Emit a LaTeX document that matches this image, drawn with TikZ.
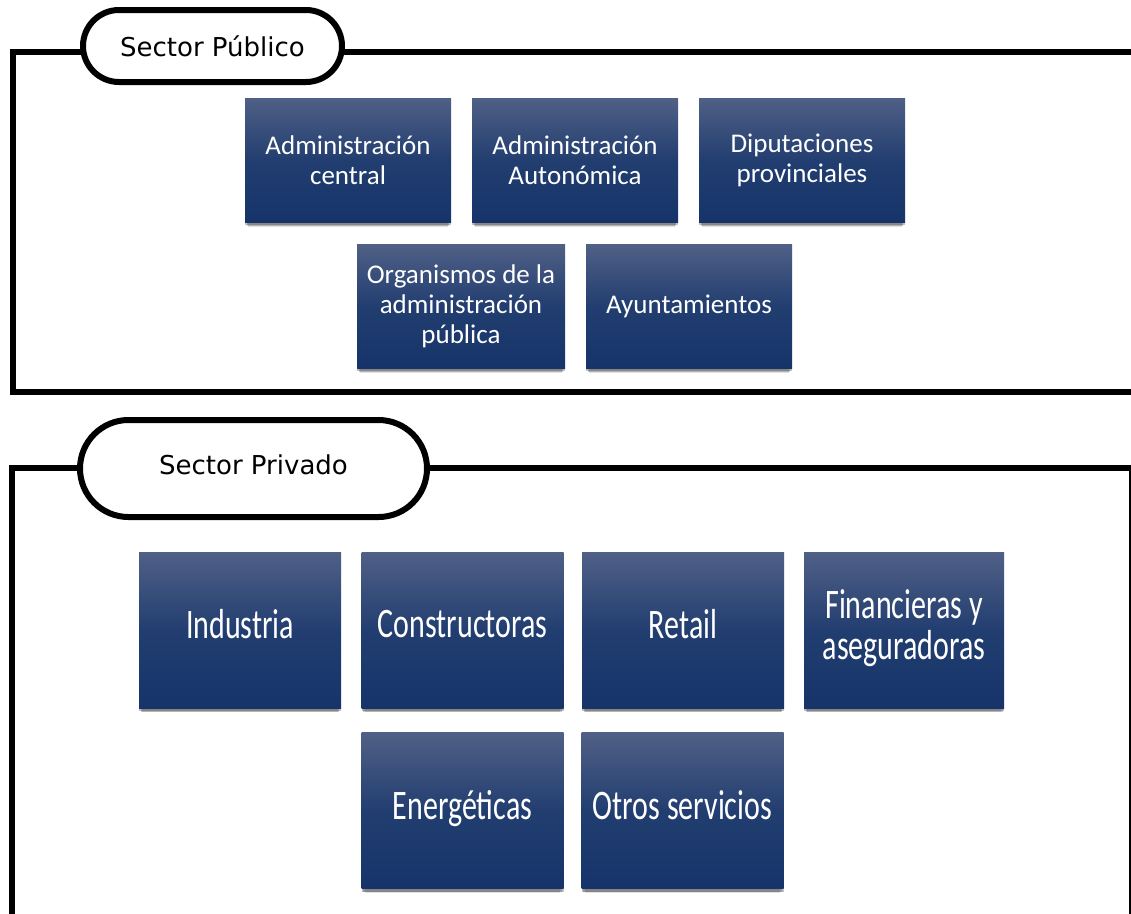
\documentclass[tikz,border=0pt]{standalone}
\usepackage{fontspec}
\setmainfont{Carlito}
\newfontfamily\verd{DejaVu Sans}
\usetikzlibrary{shadows,shapes.misc}
\definecolor{boxtop}{RGB}{80,96,134}
\definecolor{boxmid}{RGB}{34,62,112}
\definecolor{boxbot}{RGB}{22,52,106}
\newcommand{\tallt}[1]{\scalebox{1}[1.4]{\begin{tabular}{@{}c@{}}#1\end{tabular}}}
\tikzset{
  bluebox/.style={rectangle, inner sep=0pt, text=white, align=center,
    top color=boxtop, bottom color=boxbot, middle color=boxmid,
    general shadow={shadow xshift=0pt, shadow yshift=-7pt, shadow scale=0.97, fill=black, opacity=0.12},
    general shadow={shadow xshift=0pt, shadow yshift=-5pt, shadow scale=0.985, fill=black, opacity=0.2},
    general shadow={shadow xshift=0pt, shadow yshift=-3pt, fill=black, opacity=0.25}},
  smallbox/.style={bluebox, minimum width=206pt, minimum height=124pt,
    font=\fontsize{27}{30}\selectfont},
  bigbox/.style={bluebox, minimum width=202pt, minimum height=156pt,
    font=\fontsize{30}{27}\selectfont},
  pill/.style={rounded rectangle, draw=black, line width=6pt, fill=white,
    inner sep=0pt, font=\verd\fontsize{26}{30}\selectfont},
  frameline/.style={draw=black, line width=6pt}
}
\begin{document}
\begin{tikzpicture}[x=1pt,y=-1pt]
\useasboundingbox (0,0) rectangle (1131,913);
\clip (0,0) rectangle (1131,913);
\fill[white] (0,0) rectangle (1131,913);
% frames
\draw[frameline] (1150,51.5) -- (12.5,51.5) -- (12.5,392) -- (1150,392);
\draw[frameline] (12,930) -- (12,467.5) -- (1132,467.5) -- (1132,930);
% pills
\node[pill, minimum width=259pt, minimum height=72pt] (pub) at (212.5,46) {Sector Público};
\node[pill, minimum width=347pt, minimum height=97pt] (priv) at (253.5,468.5) {\raisebox{7pt}{Sector Privado}};
% public sector boxes
\node[smallbox] (ac) at (348,160) {Administración\\central};
\node[smallbox] (aa) at (575,160) {Administración\\Autonómica};
\node[smallbox] (dp) at (802,160) {Diputaciones\\provinciales};
\node[smallbox, minimum width=208pt] (org) at (461,306) {Organismos de la\\administración\\pública};
\node[smallbox] (ay) at (689,306) {Ayuntamientos};
% private sector boxes
\node[bigbox] (ind) at (240,630) {\tallt{Industria}};
\node[bigbox] (con) at (462.5,630) {\tallt{Constructoras}};
\node[bigbox] (ret) at (683,630) {\tallt{Retail}};
\node[bigbox, minimum width=200pt] (fin) at (904,630) {\tallt{Financieras y\\aseguradoras}};
\node[bigbox] (ene) at (462.5,810.5) {\tallt{Energéticas}};
\node[bigbox] (otr) at (682.5,810.5) {\tallt{Otros servicios}};
\end{tikzpicture}
\end{document}
